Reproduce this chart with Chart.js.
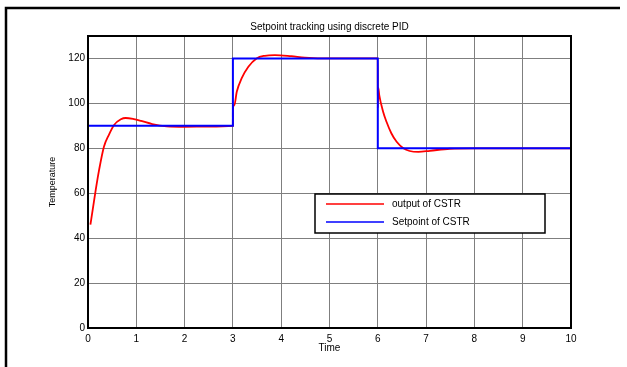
<!DOCTYPE html>
<html>
<head>
<meta charset="utf-8">
<script src="https://cdn.jsdelivr.net/npm/chart.js@4/dist/chart.umd.min.js"></script>
<style>
html,body{margin:0;padding:0;background:#fff;}
#wrap{position:relative;width:627px;height:367px;}
</style>
</head>
<body>
<div id="wrap"><canvas id="c" width="627" height="367"></canvas></div>
<script>
// ---- data ----
const chartTitle = "Setpoint tracking using discrete PID";
const xTitle = "Time";
const yTitle = "Temperature";
const xTicks = [0,1,2,3,4,5,6,7,8,9,10];
const yTicks = [0,20,40,60,80,100,120];
const seriesNames = ["output of CSTR", "Setpoint of CSTR"];

const outputTime = [0.05,0.1,0.16,0.23,0.33,0.43,0.54,0.68,0.78,0.95,1.1,1.33,1.63,2.0,2.5,2.999,3.0,3.03,3.08,3.18,3.32,3.49,3.66,3.87,4.21,4.49,5.0,5.5,5.999,6.0,6.01,6.03,6.11,6.18,6.28,6.39,6.53,6.66,6.84,7.08,7.49,8.0,9.0,10.0];
const outputTemp = [46,53,61.5,70.4,80.7,85.9,90.4,92.9,93.5,93.0,92.2,90.8,89.8,89.6,89.7,90,97.5,99.2,105.2,111.1,116.3,120,121.2,121.5,121,120.4,120,120,120,98,107,103.7,96.3,91.8,86.7,82.9,80,78.8,78.4,78.9,79.8,80,80,80];

const setpointTime = [0,3,3,6,6,10];
const setpointTemp = [90,90,120,120,80,80];

const toXY = (xs, ys) => xs.map((x, i) => ({x: x, y: ys[i]}));

const FONT = "'Liberation Sans', Arial, Helvetica, sans-serif";

const framePlugin = {
  id: 'frame',
  beforeDraw(chart) {
    const ctx = chart.ctx;
    ctx.save();
    ctx.fillStyle = '#fff';
    ctx.fillRect(0, 0, chart.width, chart.height);
    ctx.strokeStyle = '#000';
    ctx.lineWidth = 2.5;
    ctx.beginPath();
    ctx.moveTo(6, 367);
    ctx.lineTo(6, 8);
    ctx.lineTo(620, 8);
    ctx.stroke();
    ctx.restore();
  },
  afterDatasetsDraw(chart) {
    const {ctx, chartArea: a} = chart;
    ctx.save();
    // title centred over the axes
    ctx.fillStyle = '#000';
    ctx.font = "10px " + FONT;
    ctx.textAlign = 'center';
    ctx.textBaseline = 'middle';
    ctx.fillText(chartTitle, (a.left + a.right) / 2, a.top - 9);
    ctx.textAlign = 'left';
    // plot box
    ctx.strokeStyle = '#000';
    ctx.lineWidth = 2;
    ctx.strokeRect(a.left, a.top, a.right - a.left, a.bottom - a.top);
    // legend
    const bx = a.left + 227, by = a.top + 158, bw = 230, bh = 39;
    ctx.fillStyle = '#fff';
    ctx.fillRect(bx, by, bw, bh);
    ctx.lineWidth = 1.5;
    ctx.strokeRect(bx, by, bw, bh);
    const colors = [chart.data.datasets[1].borderColor, chart.data.datasets[0].borderColor];
    ctx.font = "10px " + FONT;
    ctx.textBaseline = 'middle';
    for (let i = 0; i < seriesNames.length; i++) {
      const y = by + 10 + i * 18;
      ctx.strokeStyle = colors[i];
      ctx.lineWidth = 1.5;
      ctx.beginPath();
      ctx.moveTo(bx + 11, y);
      ctx.lineTo(bx + 69, y);
      ctx.stroke();
      ctx.fillStyle = '#000';
      ctx.fillText(seriesNames[i], bx + 77, y);
    }
    ctx.restore();
  }
};

new Chart(document.getElementById('c'), {
  type: 'line',
  data: {
    datasets: [
      {
        label: seriesNames[1],
        data: toXY(setpointTime, setpointTemp),
        borderColor: '#0000ff',
        borderWidth: 2,
        pointRadius: 0,
        tension: 0,
        fill: false
      },
      {
        label: seriesNames[0],
        data: toXY(outputTime, outputTemp),
        borderColor: '#ff0000',
        borderWidth: 1.8,
        pointRadius: 0,
        cubicInterpolationMode: 'monotone',
        fill: false
      }
    ]
  },
  options: {
    responsive: false,
    animation: false,
    devicePixelRatio: 1,
    layout: {padding: {left: 0, right: 56, top: 36, bottom: 0}},
    plugins: {
      legend: {display: false},
      tooltip: {enabled: false},
      title: {display: false}
    },
    scales: {
      x: {
        type: 'linear',
        min: 0, max: 10,
        afterBuildTicks: s => { s.ticks = xTicks.map(v => ({value: v})); },
        afterFit: s => { s.height = 39; },
        grid: {color: '#7f7f7f', lineWidth: 1, drawTicks: false},
        border: {display: true, color: '#000', width: 2},
        ticks: {color: '#000', font: {family: FONT, size: 10}, padding: 5, maxRotation: 0},
        title: {display: true, text: xTitle, color: '#000', font: {family: FONT, size: 10}, padding: {top: 0, bottom: 13}}
      },
      y: {
        type: 'linear',
        min: 0, max: 130,
        afterBuildTicks: s => { s.ticks = yTicks.map(v => ({value: v})); },
        afterFit: s => { s.width = 88; },
        grid: {color: '#7f7f7f', lineWidth: 1, drawTicks: false},
        border: {display: true, color: '#000', width: 2},
        ticks: {color: '#000', font: {family: FONT, size: 10}, padding: 3},
        title: {display: true, text: yTitle, color: '#000', font: {family: FONT, size: 9}, padding: {top: 47, bottom: 0}}
      }
    }
  },
  plugins: [framePlugin]
});
</script>
</body>
</html>
